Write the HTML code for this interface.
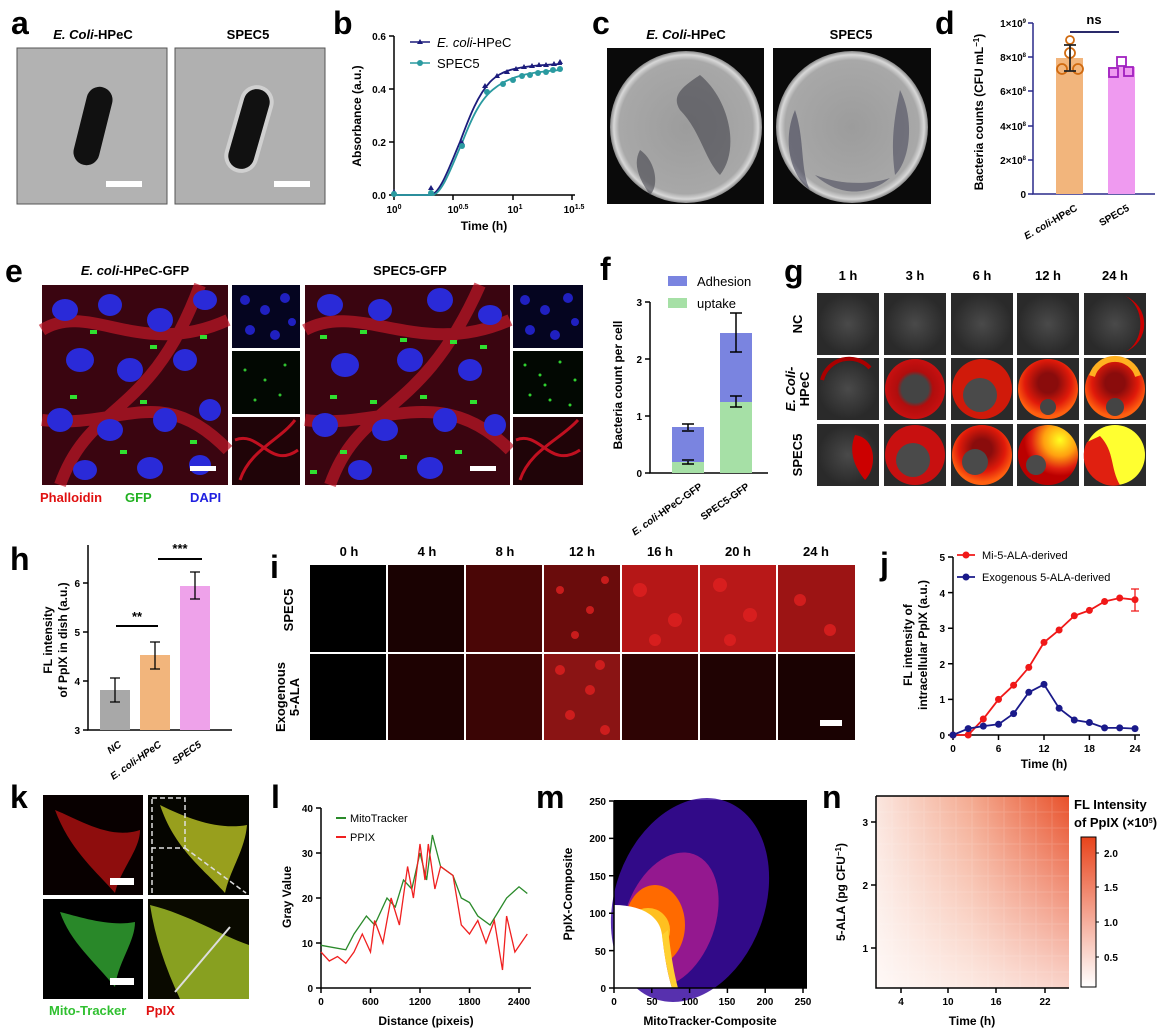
<!DOCTYPE html>
<html><head><meta charset="utf-8"><style>
html,body{margin:0;padding:0;background:#fff;}
svg{display:block;font-family:"Liberation Sans",Arial,sans-serif;}
.L{font-size:32px;font-weight:bold;}
.t{font-size:13px;font-weight:bold;}
.tk{font-size:10px;font-weight:bold;}
.ax{font-size:12px;font-weight:bold;}
</style></head><body>
<svg width="1166" height="1036" viewBox="0 0 1166 1036" xmlns="http://www.w3.org/2000/svg">
<defs>
<radialGradient id="gr" cx="50%" cy="50%" r="50%"><stop offset="0" stop-color="#4a4a4a"/><stop offset="1" stop-color="#2a2a2a"/></radialGradient>
<radialGradient id="plate" cx="50%" cy="50%" r="50%"><stop offset="0" stop-color="#9c9c9c"/><stop offset="0.88" stop-color="#a8a8a8"/><stop offset="0.95" stop-color="#d8d8d8"/><stop offset="1" stop-color="#888"/></radialGradient>
<radialGradient id="red1" cx="50%" cy="50%" r="50%"><stop offset="0.45" stop-color="#444"/><stop offset="0.6" stop-color="#b00d0d"/><stop offset="1" stop-color="#c81010"/></radialGradient>
<radialGradient id="red2" cx="50%" cy="40%" r="55%"><stop offset="0.3" stop-color="#8a0c0c"/><stop offset="0.7" stop-color="#e01a0a"/><stop offset="1" stop-color="#ff6010"/></radialGradient>
<radialGradient id="yel" cx="70%" cy="25%" r="60%"><stop offset="0" stop-color="#ffff20"/><stop offset="0.45" stop-color="#ffa010"/><stop offset="0.8" stop-color="#e02010"/><stop offset="1" stop-color="#b00"/></radialGradient>
<linearGradient id="hx" x1="0" x2="1" y1="0" y2="0"><stop offset="0" stop-color="#fbe6df"/><stop offset="0.5" stop-color="#f4a98f"/><stop offset="1" stop-color="#e8502a"/></linearGradient>
<linearGradient id="hy" x1="0" x2="0" y1="0" y2="1"><stop offset="0" stop-color="#fff" stop-opacity="0"/><stop offset="1" stop-color="#fff" stop-opacity="0.75"/></linearGradient>
<linearGradient id="cb" x1="0" x2="0" y1="0" y2="1"><stop offset="0" stop-color="#e8441c"/><stop offset="1" stop-color="#fff"/></linearGradient>
</defs>

<!-- ===== a ===== -->
<text class="L" x="11" y="34">a</text>
<text class="t" x="93" y="39" text-anchor="middle" font-size="14"><tspan font-style="italic">E. Coli</tspan>-HPeC</text>
<text class="t" x="248" y="39" text-anchor="middle" font-size="14">SPEC5</text>
<rect x="17" y="48" width="150" height="156" fill="#b2b2b2" stroke="#555"/>
<rect x="175" y="48" width="150" height="156" fill="#b0b0b0" stroke="#555"/>
<rect x="80" y="86" width="26" height="80" rx="13" fill="#111" transform="rotate(14 93 126)"/>
<rect x="232" y="84" width="34" height="90" rx="17" fill="#d0d0d0" transform="rotate(16 249 129)"/>
<rect x="236" y="88" width="26" height="82" rx="13" fill="#111" transform="rotate(16 249 129)"/>
<rect x="106" y="181" width="36" height="6" fill="#fff"/>
<rect x="274" y="181" width="36" height="6" fill="#fff"/>

<!-- ===== b ===== -->
<text class="L" x="333" y="34">b</text>
<g stroke="#000" stroke-width="1.5" fill="none">
<path d="M394 36 V195 H575"/>
<path d="M389 36H394M389 89H394M389 142H394M389 195H394M394 195v5M453 195v5M513 195v5M572 195v5"/>
</g>
<g class="tk" text-anchor="end"><text x="386" y="40">0.6</text><text x="386" y="93">0.4</text><text x="386" y="146">0.2</text><text x="386" y="199">0.0</text></g>
<g class="tk" text-anchor="middle"><text x="394" y="213">10<tspan font-size="7" dy="-4">0</tspan></text><text x="458" y="213">10<tspan font-size="7" dy="-4">0.5</tspan></text><text x="515" y="213">10<tspan font-size="7" dy="-4">1</tspan></text><text x="574" y="213">10<tspan font-size="7" dy="-4">1.5</tspan></text></g>
<text class="ax" x="484" y="230" text-anchor="middle" font-size="13">Time (h)</text>
<text class="ax" transform="translate(361 116) rotate(-90)" text-anchor="middle" font-size="13">Absorbance (a.u.)</text>
<path d="M394 195 H430 C440 195 450 165 460 142 C470 115 478 95 490 82 C502 70 515 66 562 64" stroke="#1c1c7c" stroke-width="1.8" fill="none"/>
<path d="M394 195 H432 C442 195 452 165 462 143 C472 117 481 98 495 88 C510 76 530 72 562 70" stroke="#2a9aa0" stroke-width="1.8" fill="none"/>
<g fill="#1c1c7c"><path d="M394 189l3 5h-6z"/><path d="M431 185l3 5h-6z"/><path d="M462 140l3 5h-6z"/><path d="M485 83l3 5h-6z"/><path d="M497 73l3 5h-6z"/><path d="M507 69l3 5h-6z"/><path d="M516 66l3 5h-6z"/><path d="M524 64l3 5h-6z"/><path d="M532 63l3 5h-6z"/><path d="M539 62l3 5h-6z"/><path d="M546 62l3 5h-6z"/><path d="M554 61l3 5h-6z"/><path d="M560 59l3 5h-6z"/></g>
<g fill="#2a9aa0"><circle cx="394" cy="194" r="3"/><circle cx="431" cy="193" r="3"/><circle cx="462" cy="146" r="3"/><circle cx="487" cy="92" r="3"/><circle cx="503" cy="84" r="3"/><circle cx="513" cy="80" r="3"/><circle cx="522" cy="76" r="3"/><circle cx="530" cy="75" r="3"/><circle cx="538" cy="73" r="3"/><circle cx="546" cy="72" r="3"/><circle cx="553" cy="70" r="3"/><circle cx="560" cy="69" r="3"/></g>
<path d="M410 42h20" stroke="#1c1c7c" stroke-width="1.5"/><path d="M420 39l3 5h-6z" fill="#1c1c7c"/>
<text x="437" y="47" font-size="13"><tspan font-style="italic">E. coli</tspan>-HPeC</text>
<path d="M410 63h20" stroke="#2a9aa0" stroke-width="1.5"/><circle cx="420" cy="63" r="3" fill="#2a9aa0"/>
<text x="437" y="68" font-size="13">SPEC5</text>

<!-- ===== c ===== -->
<text class="L" x="592" y="34">c</text>
<text class="t" x="686" y="39" text-anchor="middle" font-size="14"><tspan font-style="italic">E. Coli</tspan>-HPeC</text>
<text class="t" x="851" y="39" text-anchor="middle" font-size="14">SPEC5</text>
<rect x="607" y="48" width="157" height="156" fill="#0a0a0a"/>
<circle cx="686" cy="127" r="76" fill="url(#plate)"/>
<path d="M700 75 C730 100 740 150 720 175 C705 160 700 130 680 110 C670 95 685 85 700 75z" fill="#3a3a44" opacity="0.55"/>
<path d="M640 150 C655 160 660 185 650 195 C640 180 632 165 640 150z" fill="#3a3a44" opacity="0.55"/>
<rect x="773" y="48" width="158" height="156" fill="#0a0a0a"/>
<circle cx="852" cy="127" r="76" fill="url(#plate)"/>
<path d="M795 110 C805 140 800 170 810 190 C790 175 782 140 795 110z" fill="#3a3a50" opacity="0.55"/>
<path d="M900 90 C915 120 910 160 895 175 C890 140 895 115 900 90z" fill="#3a3a50" opacity="0.5"/>
<path d="M815 175 C840 185 870 185 890 178 C870 195 840 198 815 175z" fill="#3a3a50" opacity="0.5"/>

<!-- ===== d ===== -->
<text class="L" x="935" y="34">d</text>
<g stroke="#2a2a8a" stroke-width="1.5" fill="none"><path d="M1033 23V194H1155"/><path d="M1028 23h5M1028 57h5M1028 91h5M1028 126h5M1028 160h5M1028 194h5"/></g>
<g class="tk" text-anchor="end" font-size="9"><text x="1026" y="27">1×10<tspan font-size="6" dy="-4">9</tspan></text><text x="1026" y="61">8×10<tspan font-size="6" dy="-4">8</tspan></text><text x="1026" y="95">6×10<tspan font-size="6" dy="-4">8</tspan></text><text x="1026" y="130">4×10<tspan font-size="6" dy="-4">8</tspan></text><text x="1026" y="164">2×10<tspan font-size="6" dy="-4">8</tspan></text><text x="1026" y="198">0</text></g>
<text class="ax" transform="translate(983 112) rotate(-90)" text-anchor="middle" font-size="13">Bacteria counts (CFU mL<tspan font-size="8" dy="-4">−1</tspan><tspan dy="4">)</tspan></text>
<rect x="1056" y="58" width="27" height="136" fill="#f2b57c"/>
<rect x="1108" y="67" width="27" height="127" fill="#ef9af0"/>
<g stroke="#d06a10" stroke-width="1.8" fill="none"><circle cx="1062" cy="69" r="5"/><circle cx="1078" cy="69" r="5"/><circle cx="1070" cy="53" r="5"/><circle cx="1070" cy="40" r="4"/><path d="M1070 45v26M1064 45h12M1064 71h12" stroke="#222"/></g>
<g stroke="#a020c0" stroke-width="1.8" fill="none"><rect x="1109" y="68" width="9" height="9"/><rect x="1124" y="67" width="9" height="9"/><rect x="1117" y="57" width="9" height="9"/></g>
<path d="M1070 32H1119" stroke="#2a2a6a" stroke-width="2"/>
<text class="t" x="1094" y="24" text-anchor="middle">ns</text>
<g class="tk" font-size="10"><text transform="translate(1078 210) rotate(-30)" text-anchor="end"><tspan font-style="italic">E. coli</tspan>-HPeC</text><text transform="translate(1130 210) rotate(-30)" text-anchor="end">SPEC5</text></g>

<!-- ===== e ===== -->
<text class="L" x="5" y="282">e</text>
<text class="t" x="135" y="275" text-anchor="middle"><tspan font-style="italic">E. coli</tspan>-HPeC-GFP</text>
<text class="t" x="410" y="275" text-anchor="middle">SPEC5-GFP</text>
<g>
<rect x="42" y="285" width="186" height="200" fill="#3a0510"/>
<path d="M42 330 C90 300 140 360 228 320 M60 485 C90 400 150 420 200 285 M42 420 C120 430 160 380 228 450" stroke="#c01828" stroke-width="12" fill="none" opacity="0.7"/>
<g fill="#2a2ad8"><ellipse cx="65" cy="310" rx="13" ry="11"/><ellipse cx="110" cy="305" rx="12" ry="11"/><ellipse cx="160" cy="320" rx="13" ry="12"/><ellipse cx="205" cy="300" rx="12" ry="10"/><ellipse cx="80" cy="360" rx="14" ry="12"/><ellipse cx="130" cy="370" rx="13" ry="12"/><ellipse cx="185" cy="360" rx="12" ry="11"/><ellipse cx="60" cy="420" rx="13" ry="12"/><ellipse cx="110" cy="430" rx="13" ry="11"/><ellipse cx="165" cy="420" rx="12" ry="12"/><ellipse cx="210" cy="410" rx="11" ry="11"/><ellipse cx="85" cy="470" rx="12" ry="10"/><ellipse cx="150" cy="468" rx="13" ry="11"/><ellipse cx="200" cy="465" rx="11" ry="10"/></g>
<g fill="#30e030"><rect x="90" y="330" width="7" height="4"/><rect x="150" y="345" width="7" height="4"/><rect x="200" y="335" width="7" height="4"/><rect x="70" y="395" width="7" height="4"/><rect x="140" y="400" width="7" height="4"/><rect x="190" y="440" width="7" height="4"/><rect x="120" y="450" width="7" height="4"/></g>
<rect x="190" y="466" width="26" height="5" fill="#fff"/>
<rect x="232" y="285" width="68" height="63" fill="#050520"/>
<g fill="#2020c0"><circle cx="245" cy="300" r="5"/><circle cx="265" cy="310" r="5"/><circle cx="285" cy="298" r="5"/><circle cx="250" cy="330" r="5"/><circle cx="275" cy="335" r="5"/><circle cx="292" cy="322" r="4"/></g>
<rect x="232" y="351" width="68" height="63" fill="#020802"/>
<g fill="#30c030"><circle cx="245" cy="370" r="1.5"/><circle cx="265" cy="380" r="1.5"/><circle cx="285" cy="365" r="1.5"/><circle cx="255" cy="400" r="1.5"/><circle cx="280" cy="395" r="1.5"/></g>
<rect x="232" y="417" width="68" height="68" fill="#200408"/>
<path d="M235 440 C260 430 270 470 298 450 M240 480 C250 450 280 440 295 420" stroke="#c01020" stroke-width="3" fill="none"/>
</g>
<g>
<rect x="305" y="285" width="205" height="200" fill="#3a0510"/>
<path d="M305 330 C360 300 420 360 510 320 M330 485 C360 400 420 420 480 285 M305 420 C380 430 440 380 510 450" stroke="#c01828" stroke-width="12" fill="none" opacity="0.7"/>
<g fill="#2a2ad8"><ellipse cx="330" cy="305" rx="13" ry="11"/><ellipse cx="380" cy="310" rx="12" ry="11"/><ellipse cx="440" cy="300" rx="13" ry="12"/><ellipse cx="490" cy="315" rx="12" ry="10"/><ellipse cx="345" cy="365" rx="14" ry="12"/><ellipse cx="410" cy="360" rx="13" ry="12"/><ellipse cx="470" cy="370" rx="12" ry="11"/><ellipse cx="325" cy="425" rx="13" ry="12"/><ellipse cx="385" cy="430" rx="13" ry="11"/><ellipse cx="445" cy="420" rx="12" ry="12"/><ellipse cx="495" cy="425" rx="11" ry="11"/><ellipse cx="360" cy="470" rx="12" ry="10"/><ellipse cx="430" cy="468" rx="13" ry="11"/></g>
<g fill="#30e030"><rect x="320" y="335" width="7" height="4"/><rect x="360" y="330" width="7" height="4"/><rect x="400" y="338" width="7" height="4"/><rect x="450" y="340" width="7" height="4"/><rect x="480" y="345" width="7" height="4"/><rect x="330" y="395" width="7" height="4"/><rect x="370" y="400" width="7" height="4"/><rect x="420" y="395" width="7" height="4"/><rect x="470" y="400" width="7" height="4"/><rect x="340" y="450" width="7" height="4"/><rect x="400" y="455" width="7" height="4"/><rect x="455" y="450" width="7" height="4"/><rect x="310" y="470" width="7" height="4"/></g>
<rect x="470" y="466" width="26" height="5" fill="#fff"/>
<rect x="513" y="285" width="70" height="63" fill="#050520"/>
<g fill="#2020c0"><circle cx="525" cy="300" r="5"/><circle cx="545" cy="310" r="5"/><circle cx="568" cy="298" r="5"/><circle cx="530" cy="330" r="5"/><circle cx="555" cy="335" r="5"/><circle cx="575" cy="322" r="4"/></g>
<rect x="513" y="351" width="70" height="63" fill="#020802"/>
<g fill="#30d030"><circle cx="525" cy="365" r="1.5"/><circle cx="540" cy="375" r="1.5"/><circle cx="560" cy="362" r="1.5"/><circle cx="575" cy="380" r="1.5"/><circle cx="530" cy="395" r="1.5"/><circle cx="550" cy="400" r="1.5"/><circle cx="570" cy="405" r="1.5"/><circle cx="545" cy="385" r="1.5"/></g>
<rect x="513" y="417" width="70" height="68" fill="#200408"/>
<path d="M516 440 C540 430 550 470 580 450 M520 480 C530 450 560 440 578 420" stroke="#c01020" stroke-width="3" fill="none"/>
</g>
<text class="t" x="40" y="502" fill="#e01010">Phalloidin</text>
<text class="t" x="125" y="502" fill="#20b020">GFP</text>
<text class="t" x="190" y="502" fill="#2020e0">DAPI</text>

<!-- ===== f ===== -->
<text class="L" x="600" y="280">f</text>
<g stroke="#000" stroke-width="1.5" fill="none"><path d="M650 302V473H768"/><path d="M645 302h5M645 359h5M645 416h5M645 473h5"/></g>
<g class="tk" text-anchor="end"><text x="642" y="306">3</text><text x="642" y="363">2</text><text x="642" y="420">1</text><text x="642" y="477">0</text></g>
<text class="ax" transform="translate(622 385) rotate(-90)" text-anchor="middle" font-size="13">Bacteria count per cell</text>
<rect x="672" y="462" width="32" height="11" fill="#a6e0a6"/>
<rect x="672" y="427" width="32" height="35" fill="#7a84e0"/>
<rect x="720" y="402" width="32" height="71" fill="#a6e0a6"/>
<rect x="720" y="333" width="32" height="69" fill="#7a84e0"/>
<g stroke="#000" stroke-width="1.5"><path d="M688 424v6M682 424h12M682 431h12M688 461v3M682 460h12M682 464h12"/><path d="M736 313v39M730 313h12M730 352h12M736 396v11M730 396h12M730 407h12"/></g>
<rect x="668" y="276" width="19" height="10" fill="#7a84e0"/><text x="697" y="286" font-size="13">Adhesion</text>
<rect x="668" y="298" width="19" height="10" fill="#a6e0a6"/><text x="697" y="308" font-size="13">uptake</text>
<g class="tk" font-size="10"><text transform="translate(703 488) rotate(-35)" text-anchor="end"><tspan font-style="italic">E. coli</tspan>-HPeC-GFP</text><text transform="translate(750 488) rotate(-35)" text-anchor="end">SPEC5-GFP</text></g>

<!-- ===== g ===== -->
<text class="L" x="784" y="282">g</text>
<g class="t" text-anchor="middle"><text x="848" y="280">1 h</text><text x="915" y="280">3 h</text><text x="982" y="280">6 h</text><text x="1048" y="280">12 h</text><text x="1115" y="280">24 h</text></g>
<g class="t"><text transform="translate(802 324) rotate(-90)" text-anchor="middle">NC</text><text transform="translate(795 389) rotate(-90)" text-anchor="middle"><tspan font-style="italic">E. Coli-</tspan></text><text transform="translate(809 389) rotate(-90)" text-anchor="middle">HPeC</text><text transform="translate(802 455) rotate(-90)" text-anchor="middle">SPEC5</text></g>
<g>
<rect x="817" y="293" width="62" height="62" fill="#2a2a2a"/><circle cx="848" cy="324" r="30" fill="url(#gr)"/>
<rect x="884" y="293" width="62" height="62" fill="#2a2a2a"/><circle cx="915" cy="324" r="30" fill="url(#gr)"/>
<rect x="951" y="293" width="62" height="62" fill="#2a2a2a"/><circle cx="982" cy="324" r="30" fill="url(#gr)"/>
<rect x="1017" y="293" width="62" height="62" fill="#2a2a2a"/><circle cx="1048" cy="324" r="30" fill="url(#gr)"/>
<rect x="1084" y="293" width="62" height="62" fill="#2a2a2a"/><circle cx="1115" cy="324" r="30" fill="url(#gr)"/><path d="M1125 296 A30 30 0 0 1 1125 352 A24 30 0 0 0 1125 296z" fill="#c00"/>
<rect x="817" y="358" width="62" height="62" fill="#2a2a2a"/><circle cx="848" cy="389" r="30" fill="url(#gr)"/><path d="M822 380 A28 28 0 0 1 870 368" stroke="#a00" stroke-width="4" fill="none"/>
<rect x="884" y="358" width="62" height="62" fill="#2a2a2a"/><circle cx="915" cy="389" r="30" fill="url(#red1)"/>
<rect x="951" y="358" width="62" height="62" fill="#2a2a2a"/><circle cx="982" cy="389" r="30" fill="#d01a0a"/><circle cx="980" cy="395" r="17" fill="#4a4a4a"/>
<rect x="1017" y="358" width="62" height="62" fill="#2a2a2a"/><circle cx="1048" cy="389" r="30" fill="url(#red2)"/><circle cx="1048" cy="407" r="8" fill="#444"/>
<rect x="1084" y="358" width="62" height="62" fill="#2a2a2a"/><circle cx="1115" cy="389" r="30" fill="url(#red2)"/><path d="M1092 376 A24 24 0 0 1 1138 376" stroke="#ffb020" stroke-width="6" fill="none"/><circle cx="1115" cy="407" r="9" fill="#444"/>
<rect x="817" y="424" width="62" height="62" fill="#2a2a2a"/><circle cx="848" cy="455" r="30" fill="url(#gr)"/><path d="M855 435 C877 438 877 468 865 480 C855 468 848 452 855 435z" fill="#c00"/>
<rect x="884" y="424" width="62" height="62" fill="#2a2a2a"/><circle cx="915" cy="455" r="30" fill="#c81010"/><circle cx="913" cy="460" r="17" fill="#4a4a4a"/>
<rect x="951" y="424" width="62" height="62" fill="#2a2a2a"/><circle cx="982" cy="455" r="30" fill="url(#red2)"/><circle cx="975" cy="462" r="13" fill="#4a4a4a"/>
<rect x="1017" y="424" width="62" height="62" fill="#2a2a2a"/><circle cx="1048" cy="455" r="30" fill="url(#yel)"/><circle cx="1036" cy="465" r="10" fill="#4a4a4a"/>
<rect x="1084" y="424" width="62" height="62" fill="#2a2a2a"/><circle cx="1115" cy="455" r="30" fill="#ffff30"/><path d="M1087 442 A30 30 0 0 0 1120 485 C1110 468 1115 452 1100 436z" fill="#e02010"/>
</g>

<!-- ===== h ===== -->
<text class="L" x="10" y="570">h</text>
<g stroke="#000" stroke-width="1.5" fill="none"><path d="M88 545V730H232"/><path d="M83 583h5M83 632h5M83 681h5M83 730h5"/></g>
<g class="tk" text-anchor="end"><text x="80" y="587">6</text><text x="80" y="636">5</text><text x="80" y="685">4</text><text x="80" y="734">3</text></g>
<text class="ax" transform="translate(52 640) rotate(-90)" text-anchor="middle" font-size="13">FL intensity</text>
<text class="ax" transform="translate(67 640) rotate(-90)" text-anchor="middle" font-size="13">of PpIX in dish (a.u.)</text>
<rect x="100" y="690" width="30" height="40" fill="#a8a8a8"/>
<rect x="140" y="655" width="30" height="75" fill="#f2b57c"/>
<rect x="180" y="586" width="30" height="144" fill="#eea2ea"/>
<g stroke="#000" stroke-width="1.3"><path d="M115 678v24M110 678h10M110 702h10M155 642v27M150 642h10M150 669h10M195 572v27M190 572h10M190 599h10"/></g>
<path d="M116 626H158M158 559H202" stroke="#000" stroke-width="2"/>
<text class="t" x="137" y="621" text-anchor="middle">**</text>
<text class="t" x="180" y="553" text-anchor="middle">***</text>
<g class="tk" font-style="italic" font-size="9"><text transform="translate(122 746) rotate(-35)" text-anchor="end">NC</text><text transform="translate(162 746) rotate(-35)" text-anchor="end">E. coli-HPeC</text><text transform="translate(202 746) rotate(-35)" text-anchor="end">SPEC5</text></g>

<!-- ===== i ===== -->
<text class="L" x="270" y="578">i</text>
<g class="t" text-anchor="middle"><text x="349" y="556">0 h</text><text x="427" y="556">4 h</text><text x="505" y="556">8 h</text><text x="582" y="556">12 h</text><text x="660" y="556">16 h</text><text x="738" y="556">20 h</text><text x="816" y="556">24 h</text></g>
<text class="t" transform="translate(293 610) rotate(-90)" text-anchor="middle">SPEC5</text>
<text class="t" transform="translate(285 697) rotate(-90)" text-anchor="middle">Exogenous</text>
<text class="t" transform="translate(299 697) rotate(-90)" text-anchor="middle">5-ALA</text>
<g>
<rect x="310" y="565" width="76" height="87" fill="#000"/>
<rect x="388" y="565" width="76" height="87" fill="#1a0202"/>
<rect x="466" y="565" width="76" height="87" fill="#4a0606"/>
<rect x="544" y="565" width="76" height="87" fill="#6a0c0c"/>
<rect x="622" y="565" width="76" height="87" fill="#b51717"/>
<rect x="700" y="565" width="76" height="87" fill="#b81818"/>
<rect x="778" y="565" width="77" height="87" fill="#9c1414"/>
<rect x="310" y="654" width="76" height="86" fill="#000"/>
<rect x="388" y="654" width="76" height="86" fill="#1e0202"/>
<rect x="466" y="654" width="76" height="86" fill="#3a0505"/>
<rect x="544" y="654" width="76" height="86" fill="#8a1414"/>
<rect x="622" y="654" width="76" height="86" fill="#2e0404"/>
<rect x="700" y="654" width="76" height="86" fill="#200303"/>
<rect x="778" y="654" width="77" height="86" fill="#1a0202"/>
<g fill="#e02020" opacity="0.8"><circle cx="560" cy="590" r="4"/><circle cx="590" cy="610" r="4"/><circle cx="575" cy="635" r="4"/><circle cx="605" cy="580" r="4"/><circle cx="640" cy="590" r="7"/><circle cx="675" cy="620" r="7"/><circle cx="655" cy="640" r="6"/><circle cx="720" cy="585" r="7"/><circle cx="750" cy="615" r="7"/><circle cx="730" cy="640" r="6"/><circle cx="800" cy="600" r="6"/><circle cx="830" cy="630" r="6"/><circle cx="560" cy="670" r="5"/><circle cx="590" cy="690" r="5"/><circle cx="570" cy="715" r="5"/><circle cx="605" cy="730" r="5"/><circle cx="600" cy="665" r="5"/></g>
<rect x="820" y="720" width="22" height="6" fill="#fff"/>
</g>

<!-- ===== j ===== -->
<text class="L" x="880" y="575">j</text>
<g stroke="#000" stroke-width="1.5" fill="none"><path d="M953 557V735H1140"/><path d="M948 557h5M948 592.6h5M948 628.2h5M948 663.8h5M948 699.4h5M948 735h5M953 735v5M998.5 735v5M1044 735v5M1089.4 735v5M1135 735v5"/></g>
<g class="tk" text-anchor="end"><text x="945" y="561">5</text><text x="945" y="597">4</text><text x="945" y="632">3</text><text x="945" y="668">2</text><text x="945" y="703">1</text><text x="945" y="739">0</text></g>
<g class="tk" text-anchor="middle"><text x="953" y="752">0</text><text x="998.5" y="752">6</text><text x="1044" y="752">12</text><text x="1089.4" y="752">18</text><text x="1135" y="752">24</text></g>
<text class="ax" x="1044" y="768" text-anchor="middle" font-size="13">Time (h)</text>
<text class="ax" transform="translate(912 645) rotate(-90)" text-anchor="middle" font-size="13">FL intensity of</text>
<text class="ax" transform="translate(927 645) rotate(-90)" text-anchor="middle" font-size="13">intracellular PpIX (a.u.)</text>
<polyline points="953,735 968.2,735 983.3,719 998.5,699.4 1013.6,685.2 1028.8,667.4 1044,642.4 1059.1,630 1074.3,615.8 1089.4,610.4 1104.6,601.5 1119.7,598 1135,599.7" stroke="#f01818" stroke-width="1.8" fill="none"/>
<g fill="#f01818"><circle cx="953" cy="735" r="3.5"/><circle cx="968.2" cy="735" r="3.5"/><circle cx="983.3" cy="719" r="3.5"/><circle cx="998.5" cy="699.4" r="3.5"/><circle cx="1013.6" cy="685.2" r="3.5"/><circle cx="1028.8" cy="667.4" r="3.5"/><circle cx="1044" cy="642.4" r="3.5"/><circle cx="1059.1" cy="630" r="3.5"/><circle cx="1074.3" cy="615.8" r="3.5"/><circle cx="1089.4" cy="610.4" r="3.5"/><circle cx="1104.6" cy="601.5" r="3.5"/><circle cx="1119.7" cy="598" r="3.5"/><circle cx="1135" cy="599.7" r="3.5"/></g>
<path d="M1135 589v22M1131 589h8M1131 611h8" stroke="#f01818" stroke-width="1.3"/>
<polyline points="953,735 968.2,728.6 983.3,726.1 998.5,724.3 1013.6,713.6 1028.8,692.3 1044,684.4 1059.1,708.3 1074.3,720 1089.4,722.5 1104.6,727.9 1119.7,727.9 1135,728.6" stroke="#1a1a8a" stroke-width="1.8" fill="none"/>
<g fill="#1a1a8a"><circle cx="953" cy="735" r="3.5"/><circle cx="968.2" cy="728.6" r="3.5"/><circle cx="983.3" cy="726.1" r="3.5"/><circle cx="998.5" cy="724.3" r="3.5"/><circle cx="1013.6" cy="713.6" r="3.5"/><circle cx="1028.8" cy="692.3" r="3.5"/><circle cx="1044" cy="684.4" r="3.5"/><circle cx="1059.1" cy="708.3" r="3.5"/><circle cx="1074.3" cy="720" r="3.5"/><circle cx="1089.4" cy="722.5" r="3.5"/><circle cx="1104.6" cy="727.9" r="3.5"/><circle cx="1119.7" cy="727.9" r="3.5"/><circle cx="1135" cy="728.6" r="3.5"/></g>
<path d="M957 555h18" stroke="#f01818" stroke-width="1.8"/><circle cx="966" cy="555" r="3.5" fill="#f01818"/>
<text x="982" y="559" font-size="11">Mi-5-ALA-derived</text>
<path d="M957 577h18" stroke="#1a1a8a" stroke-width="1.8"/><circle cx="966" cy="577" r="3.5" fill="#1a1a8a"/>
<text x="982" y="581" font-size="11">Exogenous 5-ALA-derived</text>

<!-- ===== k ===== -->
<text class="L" x="10" y="808">k</text>
<rect x="43" y="795" width="100" height="100" fill="#080000"/>
<path d="M55 810 C80 820 110 840 140 830 C140 850 120 870 115 893 C95 870 70 850 55 810z" fill="#b01010" opacity="0.8"/>
<rect x="148" y="795" width="101" height="100" fill="#050500"/>
<path d="M160 805 C190 820 220 830 247 825 C245 850 230 870 225 893 C205 870 175 850 160 805z" fill="#a8b020" opacity="0.9"/>
<rect x="152" y="798" width="33" height="50" fill="none" stroke="#ddd" stroke-dasharray="5 3" stroke-width="1.5"/>
<path d="M152 848 L152 893 M185 848 L246 893" stroke="#ddd" stroke-dasharray="5 3" stroke-width="1.5"/>
<rect x="43" y="899" width="100" height="100" fill="#000"/>
<path d="M60 912 C80 917 110 927 135 922 C135 942 118 962 115 987 C95 962 70 942 60 912z" fill="#30a030" opacity="0.85"/>
<rect x="148" y="899" width="101" height="100" fill="#0a0a00"/>
<path d="M150 905 C190 915 220 935 249 945 L249 999 L180 999 C165 967 155 937 150 905z" fill="#88a020"/>
<path d="M175 992 L230 927" stroke="#ddd" stroke-width="2"/>
<rect x="110" y="878" width="24" height="7" fill="#fff"/><rect x="110" y="978" width="24" height="7" fill="#fff"/>
<text class="t" x="49" y="1015" fill="#30c030">Mito-Tracker</text>
<text class="t" x="146" y="1015" fill="#e01010">PpIX</text>

<!-- ===== l ===== -->
<text class="L" x="271" y="808">l</text>
<g stroke="#000" stroke-width="1.5" fill="none"><path d="M321 808V988H531"/><path d="M316 808h5M316 853h5M316 898h5M316 943h5M316 988h5M321 988v5M370.5 988v5M420 988v5M469.5 988v5M519 988v5"/></g>
<g class="tk" text-anchor="end"><text x="313" y="812">40</text><text x="313" y="857">30</text><text x="313" y="902">20</text><text x="313" y="947">10</text><text x="313" y="992">0</text></g>
<g class="tk" text-anchor="middle"><text x="321" y="1005">0</text><text x="370.5" y="1005">600</text><text x="420" y="1005">1200</text><text x="469.5" y="1005">1800</text><text x="519" y="1005">2400</text></g>
<text class="ax" x="426" y="1025" text-anchor="middle" font-size="13">Distance (pixeis)</text>
<text class="ax" transform="translate(291 897) rotate(-90)" text-anchor="middle" font-size="13">Gray Value</text>
<polyline points="321,945.3 345.8,949.8 354,934 366.4,916 374.6,925 387,898 395.3,907 403.5,880 411.8,889 420,853 426.6,880 432.4,835 440.6,866.5 453,875.5 461.3,898 469.5,902.5 477.8,916 490.1,925 498.4,911.5 506.6,898 519,886.8 527.3,893.5" stroke="#2a8a2a" stroke-width="1.3" fill="none"/>
<polyline points="321,952 329.3,961 337.5,956.5 345.8,963.3 354,952 362.3,934 370.5,952 374.6,920.5 382.9,943 391.1,898 399.4,925 407.6,866.5 413.4,898 420,844 425,880 428.3,844 434.9,889 440.6,866.5 453,875.5 461.3,925 469.5,934 477.8,920.5 486,943 494.3,920.5 502.5,970 506.6,916 514.9,952 527.3,934" stroke="#f02020" stroke-width="1.3" fill="none"/>
<path d="M336 818h10" stroke="#2a8a2a" stroke-width="2"/><text x="350" y="822" font-size="11">MitoTracker</text>
<path d="M336 837h10" stroke="#f02020" stroke-width="2"/><text x="350" y="841" font-size="11">PPIX</text>

<!-- ===== m ===== -->
<text class="L" x="536" y="808">m</text>
<rect x="614" y="800" width="193" height="188" fill="#000"/>
<ellipse cx="690" cy="900" rx="75" ry="105" fill="#3a0ca0" opacity="0.85" transform="rotate(20 690 900)"/>
<ellipse cx="670" cy="920" rx="45" ry="70" fill="#a01a90" opacity="0.9" transform="rotate(20 670 920)"/>
<ellipse cx="655" cy="925" rx="30" ry="40" fill="#ff6a00"/>
<ellipse cx="648" cy="930" rx="22" ry="22" fill="#ffc020"/>
<path d="M614 905 C640 905 660 915 662 935 C665 960 668 975 672 988 L614 988z" fill="#fff"/>
<path d="M662 935 C665 960 668 975 672 988 L678 988 C672 965 670 945 668 930z" fill="#ffd030"/>
<g stroke="#000" stroke-width="1.5" fill="none"><path d="M614 801V988H807"/><path d="M609 801h5M609 838.4h5M609 875.8h5M609 913.2h5M609 950.6h5M609 988h5M614 988v5M651.8 988v5M689.6 988v5M727.4 988v5M765.2 988v5M803 988v5"/></g>
<g class="tk" text-anchor="end"><text x="606" y="805">250</text><text x="606" y="842">200</text><text x="606" y="880">150</text><text x="606" y="917">100</text><text x="606" y="955">50</text><text x="606" y="992">0</text></g>
<g class="tk" text-anchor="middle"><text x="614" y="1005">0</text><text x="652" y="1005">50</text><text x="690" y="1005">100</text><text x="727" y="1005">150</text><text x="765" y="1005">200</text><text x="803" y="1005">250</text></g>
<text class="ax" x="710" y="1025" text-anchor="middle" font-size="13">MitoTracker-Composite</text>
<text class="ax" transform="translate(572 894) rotate(-90)" text-anchor="middle" font-size="13">PpIX-Composite</text>

<!-- ===== n ===== -->
<text class="L" x="822" y="808">n</text>
<rect x="876" y="796" width="193" height="192" fill="url(#hx)"/>
<rect x="876" y="796" width="193" height="192" fill="url(#hy)"/>
<g stroke="#fff" stroke-opacity="0.15" stroke-width="1"><path d="M892 796v192M908 796v192M924 796v192M940 796v192M956 796v192M972 796v192M988 796v192M1004 796v192M1020 796v192M1036 796v192M1052 796v192M876 812h193M876 828h193M876 844h193M876 860h193M876 876h193M876 892h193M876 908h193M876 924h193M876 940h193M876 956h193M876 972h193"/></g>
<g stroke="#000" stroke-width="1.5" fill="none"><path d="M876 796V988H1069M876 796H1069"/><path d="M871 822h5M871 885h5M871 948h5M901 988v5M948 988v5M996 988v5M1045 988v5"/></g>
<g class="tk" text-anchor="end"><text x="868" y="826">3</text><text x="868" y="889">2</text><text x="868" y="952">1</text></g>
<g class="tk" text-anchor="middle"><text x="901" y="1005">4</text><text x="948" y="1005">10</text><text x="996" y="1005">16</text><text x="1045" y="1005">22</text></g>
<text class="ax" x="972" y="1025" text-anchor="middle" font-size="13">Time (h)</text>
<text class="ax" transform="translate(845 892) rotate(-90)" text-anchor="middle" font-size="13">5-ALA (pg CFU<tspan font-size="8" dy="-4">−1</tspan><tspan dy="4">)</tspan></text>
<rect x="1081" y="837" width="15" height="150" fill="url(#cb)" stroke="#000" stroke-width="1"/>
<g stroke="#000"><path d="M1096 853h3M1096 887h3M1096 922h3M1096 957h3"/></g>
<g class="tk" font-weight="normal" font-size="11"><text x="1104" y="857">2.0</text><text x="1104" y="891">1.5</text><text x="1104" y="926">1.0</text><text x="1104" y="961">0.5</text></g>
<text class="t" x="1074" y="809" font-size="12">FL Intensity</text>
<text class="t" x="1074" y="827" font-size="12">of PpIX (×10<tspan font-size="7" dy="-4">5</tspan><tspan dy="4">)</tspan></text>
</svg>
</body></html>
